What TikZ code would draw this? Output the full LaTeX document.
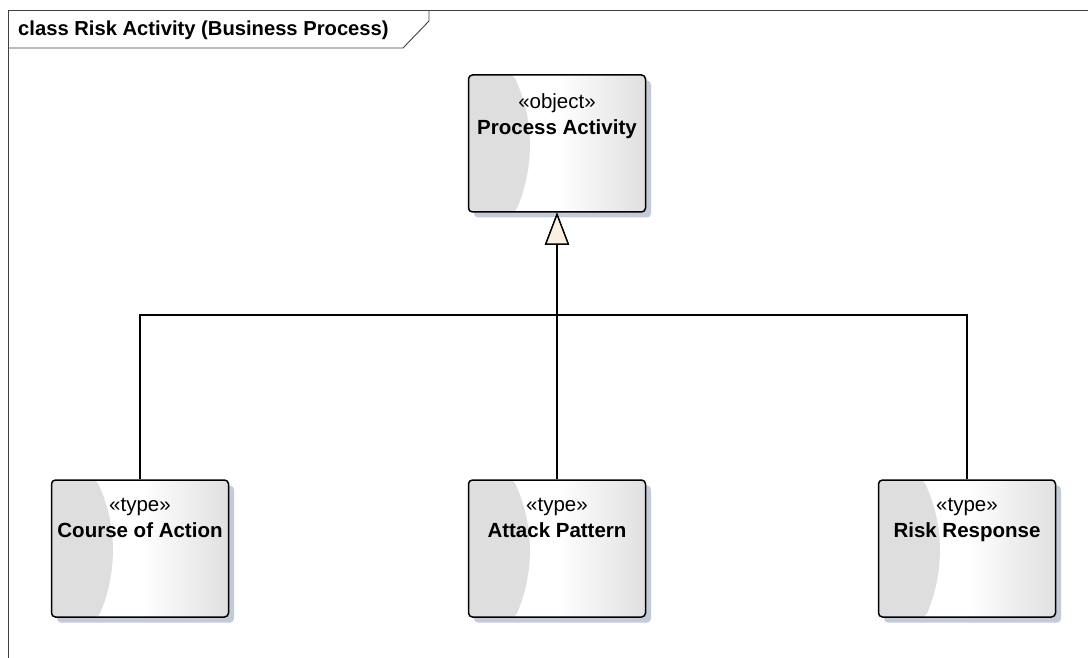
\documentclass[tikz,border=0pt]{standalone}
\usepackage{fontspec}
\setmainfont{Liberation Sans}
\usetikzlibrary{arrows.meta,calc}
\definecolor{crescent}{HTML}{DEDEDE}
\definecolor{rightgray}{HTML}{E0E0E0}
\definecolor{shadowc}{HTML}{C3CAD9}
\definecolor{cream}{HTML}{FBF0E0}
\definecolor{framec}{HTML}{404040}
\pgfdeclarehorizontalshading{boxshade}{100bp}{color(0bp)=(white); color(25bp)=(white); color(50bp)=(white); color(75bp)=(rightgray); color(100bp)=(rightgray)}
\tikzset{
  umlbox/.style={draw=black, line width=1.5pt, rounded corners=4pt,
    minimum width=177pt, minimum height=137pt, inner sep=0pt, fill=white,
    preaction={fill=shadowc, transform canvas={xshift=5.5pt, yshift=-5.5pt}},
    path picture={
      \shade[shading=boxshade]
        (path picture bounding box.north west) rectangle (path picture bounding box.south east);
      \fill[crescent] (path picture bounding box.north west)
        -- ([xshift=45pt]path picture bounding box.north west)
        .. controls ([xshift=66pt,yshift=-45pt]path picture bounding box.north west)
        and ([xshift=66pt,yshift=45pt]path picture bounding box.south west)
        .. ([xshift=47pt]path picture bounding box.south west)
        -- (path picture bounding box.south west) -- cycle;
    }},
  boxtext/.style={anchor=north, align=center, inner sep=0pt, yshift=-19pt,
    font=\fontsize{20.5}{26}\selectfont},
  gen/.style={draw=black, line width=1.3pt,
    -{Triangle[fill=cream, length=32pt, width=24pt, line width=1.3pt]}},
  frameline/.style={draw=framec, line width=0.9pt},
  titletext/.style={anchor=west, inner sep=0pt, font=\fontsize{20.2}{23}\selectfont\bfseries}
}
\begin{document}
\begin{tikzpicture}[x=1pt, y=-1pt]
\useasboundingbox (0,0) rectangle (1088,658);
% frame
\draw[frameline] (8,658) -- (8,10) -- (1088,10);
\draw[frameline] (8,48) -- (403,48) -- (429,21) -- (429,10);
\node[titletext] (title) at (18,30) {class Risk Activity (Business Process)};
% boxes
\node[umlbox] (pa) at (557,143.5) {};
\node[boxtext] (pat) at (pa.north) {«object»\\\textbf{Process Activity}};
\node[umlbox] (ca) at (140,548.5) {};
\node[boxtext] (cat) at (ca.north) {«type»\\\textbf{Course of Action}};
\node[umlbox] (ap) at (557,548.5) {};
\node[boxtext] (apt) at (ap.north) {«type»\\\textbf{Attack Pattern}};
\node[umlbox] (rr) at (967,548.5) {};
\node[boxtext] (rrt) at (rr.north) {«type»\\\textbf{Risk Response}};
% connectors
\coordinate (j) at (557,315);
\draw[gen] (ca.north) |- (j) -- (pa.south);
\draw[gen] (rr.north) |- (j) -- (pa.south);
\draw[gen] (ap.north) -- (pa.south);
\end{tikzpicture}
\end{document}
